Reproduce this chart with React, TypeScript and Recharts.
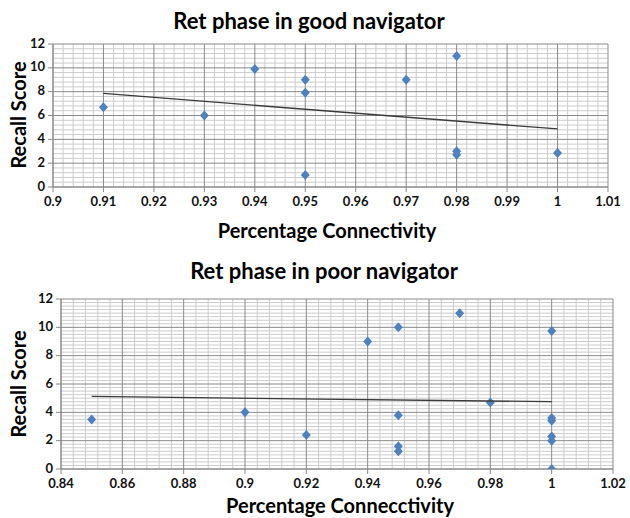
import React from 'react';
import { ScatterChart, Scatter, XAxis, YAxis, ReferenceLine } from 'recharts';

// ---- Data: good navigator ----
const goodX = [0.91, 0.93, 0.94, 0.95, 0.95, 0.95, 0.97, 0.98, 0.98, 0.98, 1.0];
const goodY = [6.7, 6.0, 9.9, 9.0, 7.9, 1.0, 9.0, 11.0, 3.0, 2.7, 2.85];
const goodTrendX = [0.91, 1.0];
const goodTrendY = [7.85, 4.87];

// ---- Data: poor navigator ----
const poorX = [0.85, 0.9, 0.92, 0.94, 0.95, 0.95, 0.95, 0.95, 0.97, 0.98, 1.0, 1.0, 1.0, 1.0, 1.0, 1.0];
const poorY = [3.5, 4.0, 2.4, 9.0, 10.0, 3.8, 1.6, 1.25, 11.0, 4.7, 9.75, 3.6, 3.4, 2.3, 2.0, 0.0];
const poorTrendX = [0.85, 1.0];
const poorTrendY = [5.12, 4.75];

// ---- Tick labels ----
const goodXTicks = [0.9, 0.91, 0.92, 0.93, 0.94, 0.95, 0.96, 0.97, 0.98, 0.99, 1.0, 1.01];
const goodXLabels = ['0.9', '0.91', '0.92', '0.93', '0.94', '0.95', '0.96', '0.97', '0.98', '0.99', '1', '1.01'];
const poorXTicks = [0.84, 0.86, 0.88, 0.9, 0.92, 0.94, 0.96, 0.98, 1.0, 1.02];
const poorXLabels = ['0.84', '0.86', '0.88', '0.9', '0.92', '0.94', '0.96', '0.98', '1', '1.02'];
const yTicks = [0, 2, 4, 6, 8, 10, 12];

const zip = (xs: number[], ys: number[]) => xs.map((x, i) => ({ x, y: ys[i] }));

// minor gridline positions (grid configuration, not data)
const minorValues = (start: number, end: number, step: number, per: number) => {
  const out: number[] = [];
  const n = Math.round((end - start) / step);
  for (let i = 1; i < n; i++) {
    if (i % per === 0) continue;
    out.push(Math.round((start + i * step) * 100000) / 100000);
  }
  return out;
};

const MARKER = '#4F81BD';
const MAJOR = '#8a8a8a';
const MINOR = '#cccccc';
const FONT = 'Lato, "Open Sans", sans-serif';

const Diamond = (props: any) => {
  const { cx, cy } = props;
  if (cx == null || cy == null) return <g />;
  return (
    <path
      d={`M${cx},${cy - 5}L${cx + 4.5},${cy}L${cx},${cy + 5}L${cx - 4.5},${cy}Z`}
      fill={MARKER}
    />
  );
};
const NoMarker = () => <g />;

type PanelProps = {
  top: number;
  height: number;
  margin: { top: number; right: number; bottom: number; left: number };
  xDomain: [number, number];
  xTicks: number[];
  xLabels: string[];
  xMinor: number[];
  yMinor: number[];
  points: { x: number; y: number }[];
  trend: { x: number; y: number }[];
};

const Panel = (p: PanelProps) => {
  const fmt = (v: number) => {
    const i = p.xTicks.findIndex((t) => Math.abs(t - v) < 1e-9);
    return i >= 0 ? p.xLabels[i] : String(v);
  };
  const tickStyle = { fontSize: 13, fontWeight: 700, fill: '#111', fontFamily: FONT };
  return (
    <div style={{ position: 'absolute', left: 0, top: p.top }}>
      <ScatterChart width={630} height={p.height} margin={p.margin}>
        <XAxis
          type="number"
          dataKey="x"
          domain={p.xDomain}
          ticks={p.xTicks}
          interval={0}
          allowDataOverflow
          tickFormatter={fmt}
          tick={tickStyle}
          tickSize={5}
          tickMargin={5}
          height={20}
          axisLine={{ stroke: MAJOR }}
          tickLine={{ stroke: MAJOR }}
        />
        <YAxis
          type="number"
          dataKey="y"
          domain={[0, 12]}
          ticks={yTicks}
          interval={0}
          allowDataOverflow
          tick={{ ...tickStyle, dy: -1 }}
          tickSize={5}
          tickMargin={3}
          width={20}
          axisLine={{ stroke: MAJOR }}
          tickLine={{ stroke: MAJOR }}
        />
        {p.xMinor.map((v) => (
          <ReferenceLine key={'xm' + v} x={v} stroke={MINOR} strokeWidth={1} />
        ))}
        {p.yMinor.map((v) => (
          <ReferenceLine key={'ym' + v} y={v} stroke={MINOR} strokeWidth={1} />
        ))}
        {p.xTicks.map((v) => (
          <ReferenceLine key={'xM' + v} x={v} stroke={MAJOR} strokeWidth={1} />
        ))}
        {yTicks.map((v) => (
          <ReferenceLine key={'yM' + v} y={v} stroke={MAJOR} strokeWidth={1} />
        ))}
        <Scatter data={p.points} shape={Diamond} isAnimationActive={false} />
        <Scatter
          data={p.trend}
          shape={NoMarker}
          line={{ stroke: '#3a3a3a', strokeWidth: 1.3 }}
          isAnimationActive={false}
        />
      </ScatterChart>
    </div>
  );
};

const textBase: React.CSSProperties = {
  position: 'absolute',
  fontFamily: FONT,
  fontWeight: 700,
  color: '#000',
  whiteSpace: 'nowrap',
  lineHeight: 1,
};

const Centered = ({ x, y, size, text }: { x: number; y: number; size: number; text: string }) => (
  <div style={{ ...textBase, left: x, top: y, fontSize: size, transform: 'translate(-50%, -50%)' }}>{text}</div>
);
const Vertical = ({ x, y, size, text }: { x: number; y: number; size: number; text: string }) => (
  <div
    style={{
      ...textBase,
      left: x,
      top: y,
      fontSize: size,
      transform: 'translate(-50%, -50%) rotate(-90deg)',
    }}
  >
    {text}
  </div>
);

export default function App() {
  return (
    <div
      style={{
        position: 'absolute',
        left: 0,
        top: 0,
        width: 630,
        height: 518,
        background: '#fff',
        overflow: 'hidden',
      }}
    >
      <Panel
        top={0}
        height={250}
        margin={{ top: 44, right: 22, bottom: 43, left: 33 }}
        xDomain={[0.9, 1.01]}
        xTicks={goodXTicks}
        xLabels={goodXLabels}
        xMinor={minorValues(0.9, 1.01, 0.002, 5)}
        yMinor={minorValues(0, 12, 0.4, 5)}
        points={zip(goodX, goodY)}
        trend={zip(goodTrendX, goodTrendY)}
      />
      <Panel
        top={250}
        height={268}
        margin={{ top: 49, right: 17, bottom: 29, left: 41 }}
        xDomain={[0.84, 1.02]}
        xTicks={poorXTicks}
        xLabels={poorXLabels}
        xMinor={minorValues(0.84, 1.02, 0.004, 5)}
        yMinor={minorValues(0, 12, 0.25, 8)}
        points={zip(poorX, poorY)}
        trend={zip(poorTrendX, poorTrendY)}
      />
      <Centered x={309} y={21} size={22} text="Ret phase in good navigator" />
      <Centered x={327} y={230} size={20} text="Percentage Connectivity" />
      <Vertical x={18} y={115} size={20} text="Recall Score" />
      <Centered x={324} y={271} size={22} text="Ret phase in poor navigator" />
      <Centered x={340} y={505} size={20} text="Percentage Connecctivity" />
      <Vertical x={18} y={384} size={20} text="Recall Score" />
    </div>
  );
}
